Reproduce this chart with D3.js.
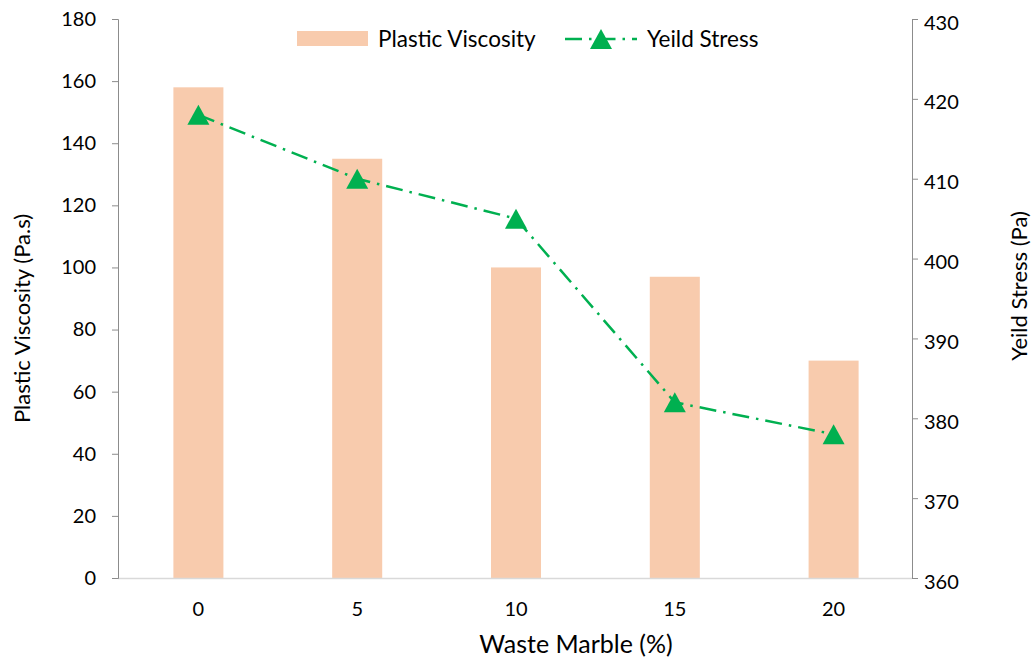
<!DOCTYPE html>
<html>
<head>
<meta charset="utf-8">
<script src="https://cdn.jsdelivr.net/npm/d3@7"></script>
<style>
  body { margin: 0; background: #fff; }
  text { font-family: Lato, "Open Sans", sans-serif; fill: #000; }
</style>
</head>
<body>
<div id="chart"></div>
<script>
// Data
const categories = ["0", "5", "10", "15", "20"];
const plasticViscosity = [158, 135, 100, 97, 70];
const yieldStress = [418, 410, 405, 382, 378];
const leftTicks = [0, 20, 40, 60, 80, 100, 120, 140, 160, 180];
const rightTicks = [360, 370, 380, 390, 400, 410, 420, 430];

const W = 1033, H = 661;
const margin = {top: 19, right: 121, bottom: 83, left: 118},
      width = W - margin.left - margin.right,
      height = H - margin.top - margin.bottom;

const barColor = "#F8CBAD";
const lineColor = "#00B050";
const axisColor = "#8c8c8c";

const svg = d3.select("#chart").append("svg")
    .attr("width", W)
    .attr("height", H);

const g = svg.append("g")
    .attr("transform", `translate(${margin.left},${margin.top})`);

// Scales
const x = d3.scaleBand()
    .domain(categories)
    .range([0, width])
    .padding(0);

const yLeft = d3.scaleLinear().domain([0, 180]).range([height, 0]);
const yRight = d3.scaleLinear().domain([360, 430]).range([height, 0]);

const barW = x.bandwidth() * 0.315;
const cx = d => x(d) + x.bandwidth() / 2 + 1;

// Bars
g.selectAll(".bar")
    .data(categories)
    .join("rect")
      .attr("class", "bar")
      .attr("x", d => cx(d) - barW / 2)
      .attr("y", (d, i) => yLeft(plasticViscosity[i]))
      .attr("width", barW)
      .attr("height", (d, i) => height - yLeft(plasticViscosity[i]))
      .attr("fill", barColor);

// Bottom axis line (light gray)
g.append("line")
    .attr("x1", 0).attr("x2", width)
    .attr("y1", height + 0.5).attr("y2", height + 0.5)
    .attr("stroke", "#d9d9d9")
    .attr("stroke-width", 1.5);

// Left axis
const leftAxis = g.append("g")
    .call(d3.axisLeft(yLeft).tickValues(leftTicks).tickSize(6).tickPadding(16));
leftAxis.select(".domain").attr("stroke", axisColor).attr("d", `M-6,0.5H0.5V${height + 0.5}H-6`);
leftAxis.selectAll(".tick line").attr("stroke", axisColor);
leftAxis.selectAll("text").style("font-size", "20px");

// Right axis
const rightAxis = g.append("g")
    .attr("transform", `translate(${width},0)`)
    .call(d3.axisRight(yRight).tickValues(rightTicks).tickSize(6).tickPadding(6));
rightAxis.select(".domain").attr("stroke", axisColor).attr("d", `M6,0.5H0.5V${height + 0.5}H6`);
rightAxis.selectAll(".tick line").attr("stroke", axisColor);
rightAxis.selectAll("text").style("font-size", "20px").attr("dy", "0.5em");

// Category labels
g.selectAll(".cat")
    .data(categories)
    .join("text")
      .attr("class", "cat")
      .attr("x", d => cx(d))
      .attr("y", height + 38)
      .attr("text-anchor", "middle")
      .style("font-size", "20px")
      .text(d => d);

// Yield stress line
const line = d3.line()
    .x((d, i) => cx(categories[i]))
    .y(d => yRight(d));

g.append("path")
    .datum(yieldStress)
    .attr("fill", "none")
    .attr("stroke", lineColor)
    .attr("stroke-width", 2.5)
    .attr("stroke-dasharray", "17,7,2.5,7")
    .attr("d", line);

// triangle marker centred on its box, 22 wide and 20 high
const triangle = {
  draw(ctx) {
    ctx.moveTo(0, -10);
    ctx.lineTo(11, 10);
    ctx.lineTo(-11, 10);
    ctx.closePath();
  }
};
const tri = d3.symbol().type(triangle);

g.selectAll(".marker")
    .data(yieldStress)
    .join("path")
      .attr("class", "marker")
      .attr("d", tri)
      .attr("transform", (d, i) => `translate(${cx(categories[i])},${yRight(d)})`)
      .attr("fill", lineColor);

// Axis titles
svg.append("text")
    .attr("x", 576)
    .attr("y", 653)
    .attr("text-anchor", "middle")
    .style("font-size", "25px")
    .text("Waste Marble (%)");

svg.append("text")
    .attr("transform", `translate(30,${margin.top + height / 2 + 20}) rotate(-90)`)
    .attr("text-anchor", "middle")
    .style("font-size", "22px")
    .text("Plastic Viscosity (Pa.s)");

svg.append("text")
    .attr("transform", `translate(1027,286) rotate(-90)`)
    .attr("text-anchor", "middle")
    .style("font-size", "22px")
    .text("Yeild Stress (Pa)");

// Legend
const legend = svg.append("g");
legend.append("rect")
    .attr("x", 297).attr("y", 31)
    .attr("width", 71).attr("height", 15)
    .attr("fill", barColor);
legend.append("text")
    .attr("x", 378).attr("y", 47)
    .style("font-size", "22.5px")
    .text("Plastic Viscosity");

legend.append("line")
    .attr("x1", 565).attr("x2", 637)
    .attr("y1", 39).attr("y2", 39)
    .attr("stroke", lineColor)
    .attr("stroke-width", 2.5)
    .attr("stroke-dasharray", "17,7,2.5,7");
legend.append("path")
    .attr("d", tri)
    .attr("transform", "translate(601,39)")
    .attr("fill", lineColor);
legend.append("text")
    .attr("x", 647).attr("y", 47)
    .style("font-size", "22.5px")
    .text("Yeild Stress");
</script>
</body>
</html>
